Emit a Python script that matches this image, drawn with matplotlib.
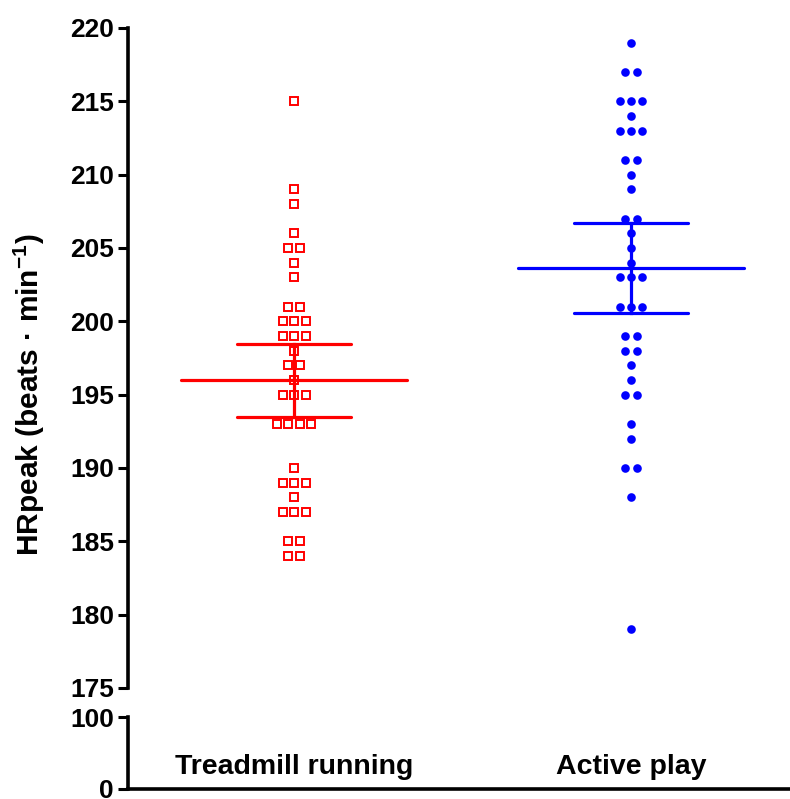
import numpy as np
import matplotlib
matplotlib.use("Agg")
import matplotlib.pyplot as plt

plt.rcParams["font.family"] = ["Liberation Sans", "DejaVu Sans"]
plt.rcParams["font.weight"] = "bold"
plt.rcParams["mathtext.fontset"] = "custom"
plt.rcParams["mathtext.rm"] = "Liberation Sans:bold"
plt.rcParams["mathtext.default"] = "rm"

groups = ["Treadmill running", "Active play"]

# HRpeak values (beats per minute)
treadmill = [215, 209, 208, 206, 205, 205, 204, 203, 201, 201,
             200, 200, 200, 199, 199, 199, 198, 197, 197, 196,
             195, 195, 195, 193, 193, 193, 193, 190, 189, 189,
             189, 188, 187, 187, 187, 185, 185, 184, 184]
active = [219, 217, 217, 215, 215, 215, 214, 213, 213, 213,
          211, 211, 210, 209, 207, 207, 206, 205, 204, 203,
          203, 203, 201, 201, 201, 199, 199, 198, 198, 197,
          196, 195, 195, 193, 192, 190, 190, 188, 179]

colors = ["#ff0000", "#0000ff"]
T_CRIT = 2.024  # t(0.975, df=38)
STEP = 0.034


def swarm_x(values, center):
    # spread equal values side by side around the group center
    values = np.asarray(values)
    xs = np.zeros(len(values), dtype=float)
    for v in np.unique(values):
        idx = np.where(values == v)[0]
        n = len(idx)
        xs[idx] = center + (np.arange(n) - (n - 1) / 2) * STEP
    return xs


fig = plt.figure(figsize=(7.9, 7.99), dpi=100)
ax = fig.add_axes([0.162, 0.139, 0.838, 0.826])
axb = fig.add_axes([0.162, 0.013, 0.838, 0.0895])

lw = 2.3
for i, (vals, col) in enumerate(zip([treadmill, active], colors)):
    x0 = i + 1
    xs = swarm_x(vals, x0)
    if i == 0:
        ax.plot(xs, vals, ls="none", marker="s", ms=5.6, mfc="white",
                mec=col, mew=1.4, zorder=2)
    else:
        ax.plot(xs, vals, ls="none", marker="o", ms=6.2, mfc=col,
                mec=col, mew=0, zorder=2)
    arr = np.asarray(vals, dtype=float)
    m = arr.mean()
    ci = T_CRIT * arr.std(ddof=1) / np.sqrt(len(arr))
    ax.plot([x0 - 0.336, x0 + 0.336], [m, m], color=col, lw=lw,
            solid_capstyle="round", zorder=3)
    for y in (m - ci, m + ci):
        ax.plot([x0 - 0.169, x0 + 0.169], [y, y], color=col, lw=lw,
                solid_capstyle="round", zorder=3)
    ax.plot([x0, x0], [m - ci, m + ci], color=col, lw=lw, zorder=3)

xlim = (0.507, 2.472)
ax.set_xlim(*xlim)
ax.set_ylim(175, 220)
ax.set_yticks(range(175, 221, 5))
ax.set_xticks([])
for s in ["top", "right", "bottom"]:
    ax.spines[s].set_visible(False)
ax.spines["left"].set_linewidth(2.6)

axb.set_xlim(*xlim)
axb.set_ylim(0, 100)
axb.set_yticks([0, 100])
axb.set_xticks([])
for s in ["top", "right"]:
    axb.spines[s].set_visible(False)
axb.spines["left"].set_linewidth(2.6)
axb.spines["bottom"].set_linewidth(2.6)

for a in (ax, axb):
    a.tick_params(axis="y", length=7, width=2.2, labelsize=19, pad=3)
    for lab in a.get_yticklabels():
        lab.set_fontweight("bold")
    a.patch.set_alpha(0)

for i, g in enumerate(groups):
    axb.text(i + 1, 30, g, ha="center", va="center", fontsize=20.5,
             fontweight="bold")

fig.text(0.037, 0.506, "HRpeak (beats \u00b7 min$^{-1}$)", rotation=90,
         ha="center", va="center", fontsize=21.5, fontweight="bold")

fig.savefig("out.png", dpi=100)
